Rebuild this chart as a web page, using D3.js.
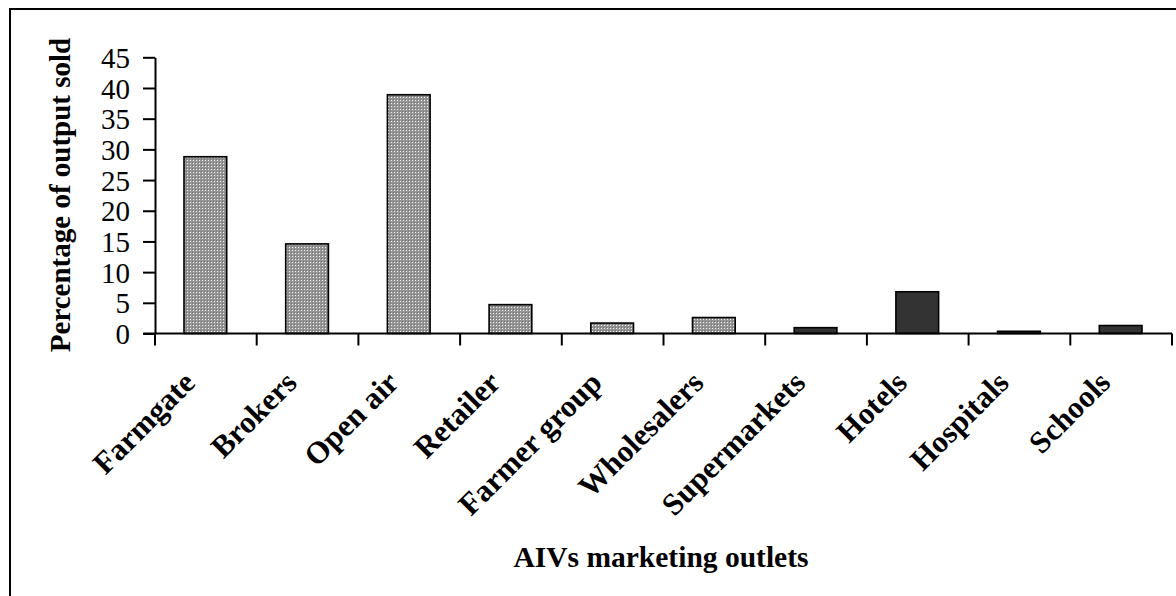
<!DOCTYPE html>
<html>
<head>
<meta charset="utf-8">
<script src="https://cdn.jsdelivr.net/npm/d3@7"></script>
<style>
    body { margin: 0; background: #fff; }
    text { font-family: "Liberation Serif", "Times New Roman", serif; fill: #000; }
</style>
</head>
<body>
<script>

var categories = ["Farmgate", "Brokers", "Open air", "Retailer", "Farmer group",
    "Wholesalers", "Supermarkets", "Hotels", "Hospitals", "Schools"];
var values = [28.8, 14.6, 38.9, 4.7, 1.7, 2.6, 0.95, 6.8, 0.36, 1.3];
// first six outlets drawn with the dotted grey fill, the rest solid dark
var fillType = ["dot", "dot", "dot", "dot", "dot", "dot", "dark", "dark", "dark", "dark"];
var yTicks = [0, 5, 10, 15, 20, 25, 30, 35, 40, 45];

var width = 1176, height = 596;
var plot = {left: 155, right: 1172, top: 57.3, bottom: 333.5};

var svg = d3.select("body").append("svg")
    .attr("width", width)
    .attr("height", height);

var pat = svg.append("defs").append("pattern")
    .attr("id", "dots")
    .attr("patternUnits", "userSpaceOnUse")
    .attr("width", 3)
    .attr("height", 3);
pat.append("rect").attr("width", 3).attr("height", 3).attr("fill", "#959595");
pat.append("rect").attr("x", 1).attr("y", 1).attr("width", 1).attr("height", 1).attr("fill", "#f0f0f0");
pat.append("rect").attr("x", 0).attr("y", 0).attr("width", 1).attr("height", 1).attr("fill", "#737373");

// outer frame (right and bottom edges fall outside the picture)
svg.append("rect")
    .attr("x", 10)
    .attr("y", 9)
    .attr("width", 1200)
    .attr("height", 620)
    .attr("fill", "none")
    .attr("stroke", "#000")
    .attr("stroke-width", 2);

var x = d3.scaleBand()
    .domain(categories)
    .range([plot.left, plot.right])
    .padding(0);

var y = d3.scaleLinear()
    .domain([0, 45])
    .range([plot.bottom, plot.top]);

var barW = x.bandwidth() * 0.42;

svg.selectAll(".bar")
    .data(categories)
    .enter()
    .append("rect")
    .attr("class", "bar")
    .attr("x", function(d) { return x(d) + (x.bandwidth() - barW) / 2 - 0.5; })
    .attr("y", function(d, i) { return y(values[i]); })
    .attr("width", barW)
    .attr("height", function(d, i) { return y(0) - y(values[i]); })
    .attr("fill", function(d, i) { return fillType[i] === "dot" ? "url(#dots)" : "#333333"; })
    .attr("stroke", "#000")
    .attr("stroke-width", 1.6);

// y axis
var yAxis = svg.append("g")
    .attr("transform", "translate(" + plot.left + ",0)")
    .call(d3.axisLeft(y).tickValues(yTicks).tickSize(12).tickPadding(13).tickSizeOuter(0));
yAxis.select(".domain").attr("stroke", "#000").attr("stroke-width", 2);
yAxis.selectAll(".tick line").attr("stroke", "#000").attr("stroke-width", 2);
yAxis.selectAll(".tick text")
    .style("font-family", "'Liberation Serif', serif")
    .style("font-size", "29px")
    .attr("dy", "0.35em");

// x axis: ticks sit on band edges
var edges = categories.map(function(d) { return x(d); }).concat([plot.right]);
svg.append("line")
    .attr("x1", plot.left - 12)
    .attr("x2", plot.right)
    .attr("y1", plot.bottom)
    .attr("y2", plot.bottom)
    .attr("stroke", "#000")
    .attr("stroke-width", 2);
svg.selectAll(".xtick")
    .data(edges)
    .enter()
    .append("line")
    .attr("class", "xtick")
    .attr("x1", function(d) { return d; })
    .attr("x2", function(d) { return d; })
    .attr("y1", plot.bottom)
    .attr("y2", plot.bottom + 12)
    .attr("stroke", "#000")
    .attr("stroke-width", 2);

svg.selectAll(".xlabel")
    .data(categories)
    .enter()
    .append("text")
    .attr("class", "xlabel")
    .attr("transform", function(d) {
        return "translate(" + (x(d) + x.bandwidth() / 2 - 9) + "," + (plot.bottom + 51) + ") rotate(-45)";
    })
    .attr("text-anchor", "end")
    .style("font-size", "31px")
    .style("font-weight", "bold")
    .text(function(d) { return d; });

svg.append("text")
    .attr("x", 661)
    .attr("y", 567)
    .attr("text-anchor", "middle")
    .style("font-size", "29.5px")
    .style("font-weight", "bold")
    .text("AIVs marketing outlets");

svg.append("text")
    .attr("transform", "translate(70,195) rotate(-90)")
    .attr("text-anchor", "middle")
    .style("font-size", "29px")
    .style("font-weight", "bold")
    .text("Percentage of output sold");

</script>
</body>
</html>
